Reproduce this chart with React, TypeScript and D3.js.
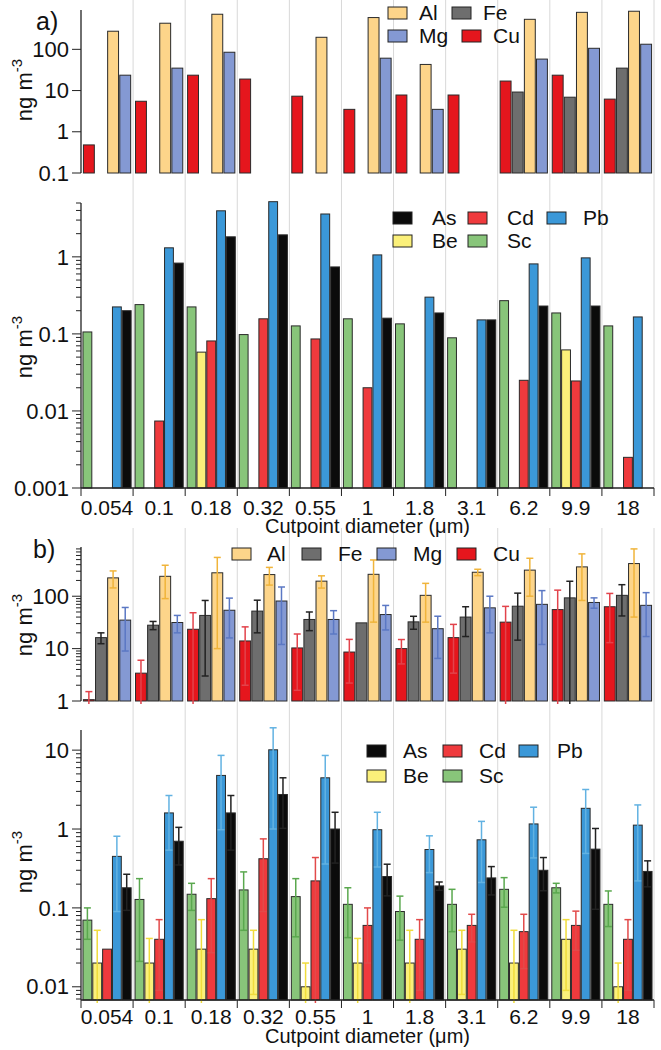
import { useRef, useEffect } from 'react';
import * as d3 from 'd3';

const cutpoints = ['0.054', '0.1', '0.18', '0.32', '0.55', '1', '1.8', '3.1', '6.2', '9.9', '18'];

// a) upper panel, ng m-3
const aCu = [0.48, 5.5, 23.6, 19, 7.3, 3.5, 7.8, 7.8, 17, 23.6, 6.2];
const aFe = [null, null, null, null, null, null, null, null, 9.2, 6.9, 35];
const aAl = [275, 430, 710, null, 196, 590, 43, null, 535, 790, 840];
const aMg = [23.6, 35, 85, null, null, 61, 3.5, null, 58, 106, 133];

// a) lower panel
const aSc = [0.106, 0.24, 0.224, 0.098, 0.127, 0.157, 0.135, 0.089, 0.27, 0.187, 0.127];
const aBe = [null, null, 0.058, null, null, null, null, null, null, 0.062, null];
const aCd = [null, 0.0074, 0.081, 0.157, 0.086, 0.02, null, null, 0.025, 0.0245, 0.0025];
const aPb = [0.224, 1.31, 3.96, 5.2, 3.6, 1.06, 0.3, 0.152, 0.81, 0.97, 0.166];
const aAs = [0.2, 0.83, 1.82, 1.93, 0.74, 0.16, 0.187, 0.152, 0.23, 0.23, null];

// b) upper panel, mean and sd
const bCu = [1.06, 3.4, 23.4, 14, 10.3, 8.6, 10, 16.2, 32, 55.6, 63];
const bCuSd = [0.45, 2.6, 25, 12, 8.7, 6.4, 4.9, 12.8, 32, 75, 50];
const bFe = [16.2, 28, 43, 52, 36, 31, 32.4, 40, 64.5, 93, 104];
const bFeSd = [3.8, 5, 40, 32, 14, 0, 9, 23, 50, 100, 62];
const bAl = [224, 240, 280, 259, 194, 262, 104, 287, 315, 363, 420];
const bAlSd = [80, 150, 270, 96, 51, 230, 72, 40, 215, 280, 380];
const bMg = [35, 31.5, 54, 81, 36, 44.7, 24, 60, 70, 76, 67];
const bMgSd = [26, 11.5, 38, 69, 17, 22, 17.5, 40, 58, 17, 50];

// b) lower panel
const bSc = [0.07, 0.128, 0.149, 0.169, 0.139, 0.111, 0.09, 0.111, 0.172, 0.18, 0.111];
const bScSd = [0.03, 0.107, 0.056, 0.117, 0.096, 0.069, 0.051, 0.061, 0.07, 0.025, 0.053];
const bBe = [0.02, 0.02, 0.03, 0.03, 0.01, 0.02, 0.02, 0.03, 0.02, 0.04, 0.01];
const bBeSd = [0.032, 0.021, 0.041, 0.022, 0.01, 0.021, 0.032, 0.022, 0.032, 0.031, 0.01];
const bCd = [0.03, 0.04, 0.131, 0.42, 0.22, 0.06, 0.04, 0.06, 0.05, 0.06, 0.04];
const bCdSd = [0, 0.031, 0.104, 0.33, 0.215, 0.04, 0.031, 0.023, 0.033, 0.031, 0.031];
const bPb = [0.45, 1.6, 4.78, 10.1, 4.46, 0.98, 0.55, 0.73, 1.16, 1.83, 1.12];
const bPbSd = [0.36, 1.06, 3.8, 9.1, 4.1, 0.65, 0.27, 0.52, 0.73, 1.34, 0.9];
const bAs = [0.18, 0.7, 1.6, 2.74, 1.0, 0.25, 0.19, 0.24, 0.3, 0.556, 0.29];
const bAsSd = [0.087, 0.35, 1.06, 1.72, 0.63, 0.108, 0.023, 0.094, 0.135, 0.46, 0.105];

const C = {
  Al: '#fdd58a', Fe: '#6e6e6e', Mg: '#8499d3', Cu: '#e5161d',
  As: '#0b0b0b', Cd: '#ef3a3d', Pb: '#3b98d8', Be: '#fbf07a', Sc: '#88c57a',
};
const E = {
  Al: '#f0b43a', Fe: '#222', Mg: '#5b78c4', Cu: '#e2434b',
  As: '#222', Cd: '#e24a4a', Pb: '#62b2e2', Be: '#f0dc3c', Sc: '#5aa84e',
};

export default function App() {
  const ref = useRef<SVGSVGElement>(null);

  useEffect(() => {
    const W = 661, H = 1050;
    const x0 = 81, x1 = 654;
    const font = '"Liberation Sans", Arial, Helvetica, sans-serif';
    const svg = d3.select(ref.current)
      .attr('width', W).attr('height', H)
      .style('font-family', font);
    svg.selectAll('*').remove();

    const x = d3.scaleBand<string>().domain(cutpoints).range([x0, x1]);
    const bounds = cutpoints.slice(1).map(c => x(c) as number).concat([x1]);

    // light vertical grid
    const grid = (top: number, bottom: number) => svg.append('g')
      .selectAll('line').data(bounds).join('line')
      .attr('x1', d => d).attr('x2', d => d)
      .attr('y1', top).attr('y2', bottom)
      .attr('stroke', '#d8d8d8').attr('stroke-width', 1);
    grid(0, 488);
    grid(528, 1000);

    const panels = [
      {
        domain: [0.1, 900], range: [173, 10], minor: false, xAxis: false, labelY: 90,
        series: [
          { k: 'Cu', v: aCu }, { k: 'Fe', v: aFe }, { k: 'Al', v: aAl }, { k: 'Mg', v: aMg },
        ],
        legend: [
          { k: 'Al', sx: 388, tx: 419, y: 7 }, { k: 'Fe', sx: 452, tx: 483, y: 7 },
          { k: 'Mg', sx: 388, tx: 419, y: 30 }, { k: 'Cu', sx: 462, tx: 493, y: 30 },
        ],
      },
      {
        domain: [0.001, 5], range: [488, 203], minor: true, xAxis: true, labelY: 347,
        tickDy: 27, titleDy: 45,
        series: [
          { k: 'Sc', v: aSc }, { k: 'Be', v: aBe }, { k: 'Cd', v: aCd }, { k: 'Pb', v: aPb }, { k: 'As', v: aAs },
        ],
        legend: [
          { k: 'As', sx: 393, tx: 432, y: 212 }, { k: 'Cd', sx: 468, tx: 507, y: 212 },
          { k: 'Pb', sx: 547, tx: 583, y: 212 },
          { k: 'Be', sx: 393, tx: 432, y: 235 }, { k: 'Sc', sx: 468, tx: 507, y: 235 },
        ],
      },
      {
        domain: [1, 870], range: [701, 547], minor: true, xAxis: false, labelY: 625,
        series: [
          { k: 'Cu', v: bCu, sd: bCuSd }, { k: 'Fe', v: bFe, sd: bFeSd },
          { k: 'Al', v: bAl, sd: bAlSd }, { k: 'Mg', v: bMg, sd: bMgSd },
        ],
        legend: [
          { k: 'Al', sx: 232, tx: 267, y: 548 }, { k: 'Fe', sx: 302, tx: 338, y: 548 },
          { k: 'Mg', sx: 377, tx: 413, y: 548 }, { k: 'Cu', sx: 457, tx: 493, y: 548 },
        ],
      },
      {
        domain: [0.0068, 18], range: [1000, 730], minor: true, xAxis: true, labelY: 862,
        tickDy: 24, titleDy: 43,
        series: [
          { k: 'Sc', v: bSc, sd: bScSd }, { k: 'Be', v: bBe, sd: bBeSd }, { k: 'Cd', v: bCd, sd: bCdSd },
          { k: 'Pb', v: bPb, sd: bPbSd }, { k: 'As', v: bAs, sd: bAsSd },
        ],
        legend: [
          { k: 'As', sx: 367, tx: 403, y: 745 }, { k: 'Cd', sx: 443, tx: 479, y: 745 },
          { k: 'Pb', sx: 519, tx: 557, y: 745 },
          { k: 'Be', sx: 367, tx: 403, y: 770 }, { k: 'Sc', sx: 443, tx: 479, y: 770 },
        ],
      },
    ];

    const fmt = d3.format('~g');

    panels.forEach((p: any) => {
      const y = d3.scaleLog().domain(p.domain).range(p.range);
      const [bottom, top] = p.range;
      const g = svg.append('g');
      const inner = d3.scaleBand<number>()
        .domain(d3.range(p.series.length))
        .range([0, x.bandwidth()])
        .paddingInner(0.1).paddingOuter(0.2);

      // bars
      p.series.forEach((s: any, si: number) => {
        const rows = cutpoints.map((c, i) => ({ c, v: s.v[i], sd: s.sd ? s.sd[i] : null }))
          .filter(d => d.v != null);
        const bx = (d: any) => (x(d.c) as number) + (inner(si) as number);
        g.append('g').selectAll('rect').data(rows).join('rect')
          .attr('x', bx)
          .attr('y', d => y(d.v))
          .attr('width', inner.bandwidth())
          .attr('height', d => bottom - y(d.v))
          .attr('fill', C[s.k])
          .attr('stroke', '#2a2a2a').attr('stroke-width', 1);

        if (s.sd) {
          const eg = g.append('g').attr('stroke', E[s.k]).attr('stroke-width', 1.5);
          rows.filter(d => d.sd > 0).forEach(d => {
            const cx = bx(d) + inner.bandwidth() / 2;
            const hi = y(d.v + d.sd);
            const loV = d.v - d.sd;
            const lo = loV > p.domain[0] ? y(loV) : bottom + 3;
            eg.append('line').attr('x1', cx).attr('x2', cx).attr('y1', hi).attr('y2', lo);
            eg.append('line').attr('x1', cx - 3.5).attr('x2', cx + 3.5).attr('y1', hi).attr('y2', hi);
            if (loV > p.domain[0]) {
              eg.append('line').attr('x1', cx - 3.5).attr('x2', cx + 3.5).attr('y1', lo).attr('y2', lo);
            }
          });
        }
      });

      // y axis (log)
      const ticks = y.ticks();
      const isMajor = (t: number) => Math.abs(Math.log10(t) - Math.round(Math.log10(t))) < 1e-6;
      const ax = svg.append('g').attr('stroke', '#222');
      ax.append('line').attr('x1', x0).attr('x2', x0).attr('y1', top).attr('y2', bottom).attr('stroke-width', 1.3);
      ax.selectAll('line.t').data(ticks.filter(t => isMajor(t) || p.minor)).join('line')
        .attr('class', 't')
        .attr('x1', t => isMajor(t) ? x0 - 9 : x0 - 5).attr('x2', x0)
        .attr('y1', t => y(t)).attr('y2', t => y(t))
        .attr('stroke-width', 1);
      svg.append('g').selectAll('text').data(ticks.filter(isMajor)).join('text')
        .attr('x', x0 - 12).attr('y', t => y(t)).attr('dy', '0.35em')
        .attr('text-anchor', 'end').attr('font-size', 22).attr('fill', '#111')
        .text(t => fmt(t));

      // y label
      const yl = svg.append('text')
        .attr('transform', `translate(32,${p.labelY}) rotate(-90)`)
        .attr('text-anchor', 'middle').attr('font-size', 22).attr('fill', '#111');
      yl.append('tspan').text('ng m');
      yl.append('tspan').attr('dy', -10).attr('font-size', 15).text('-3');

      // x axis
      if (p.xAxis) {
        const xa = svg.append('g').attr('stroke', '#222');
        xa.append('line').attr('x1', x0).attr('x2', x1).attr('y1', bottom).attr('y2', bottom).attr('stroke-width', 1.3);
        xa.selectAll('line.t').data([x0, ...bounds]).join('line').attr('class', 't')
          .attr('x1', d => d).attr('x2', d => d).attr('y1', bottom).attr('y2', bottom + 8);
        svg.append('g').selectAll('text').data(cutpoints).join('text')
          .attr('x', c => (x(c) as number) + x.bandwidth() / 2)
          .attr('y', bottom + p.tickDy)
          .attr('text-anchor', 'middle').attr('font-size', 21).attr('fill', '#111')
          .text(c => c);
        svg.append('text')
          .attr('x', (x0 + x1) / 2).attr('y', bottom + p.titleDy)
          .attr('text-anchor', 'middle').attr('font-size', 20).attr('fill', '#111')
          .text('Cutpoint diameter (μm)');
      }

      // legend
      const lg = svg.append('g');
      p.legend.forEach((l: any) => {
        lg.append('rect').attr('x', l.sx).attr('y', l.y).attr('width', 19).attr('height', 12)
          .attr('fill', C[l.k]).attr('stroke', '#222').attr('stroke-width', 1);
        lg.append('text').attr('x', l.tx).attr('y', l.y + 12.5)
          .attr('font-size', 21).attr('fill', '#111').text(l.k);
      });
    });

    svg.append('text').attr('x', 36).attr('y', 30).attr('font-size', 25).attr('fill', '#111').text('a)');
    svg.append('text').attr('x', 33).attr('y', 558).attr('font-size', 25).attr('fill', '#111').text('b)');
  }, []);

  return <svg ref={ref} style={{ position: 'absolute', left: 0, top: 0 }}></svg>;
}
